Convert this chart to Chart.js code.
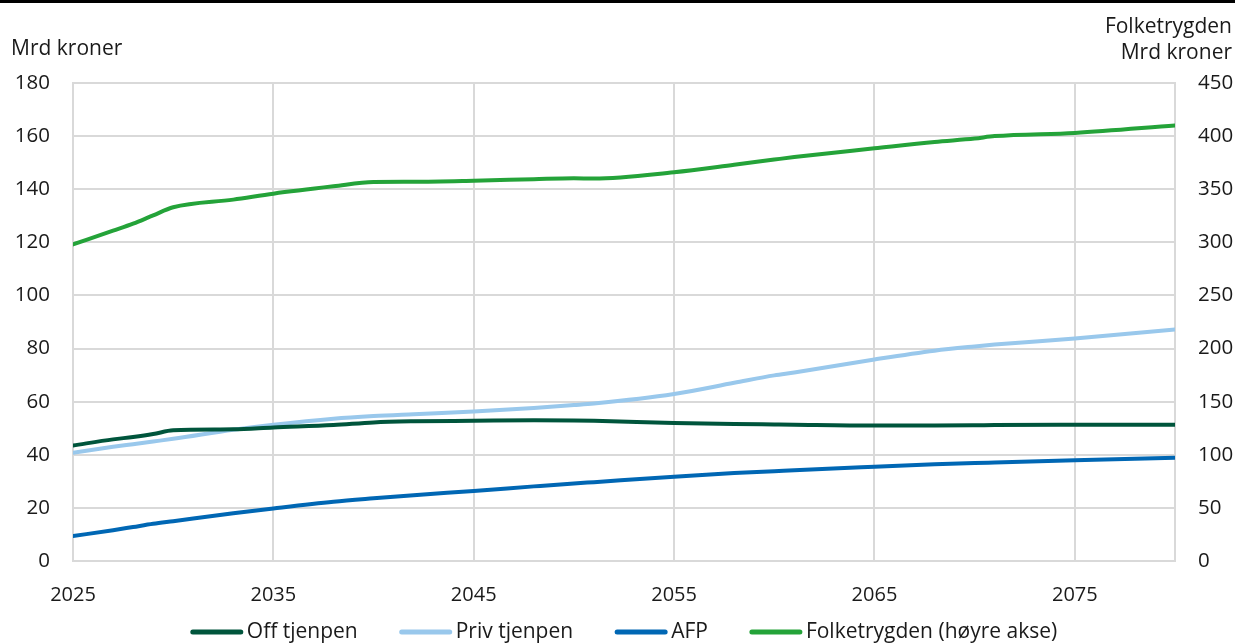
<!DOCTYPE html>
<html>
<head>
<meta charset="utf-8">
<script src="https://cdn.jsdelivr.net/npm/chart.js@4.4.1/dist/chart.umd.min.js"></script>
<style>
  html, body { margin: 0; padding: 0; background: #ffffff; }
  #wrap { width: 1235px; height: 643px; }
</style>
</head>
<body>
<div id="wrap"><canvas id="c" width="1235" height="643"></canvas></div>
<script>
// ---- Data ----
const years = [2025, 2027, 2028, 2029, 2030, 2033, 2035, 2038, 2040, 2042, 2045, 2048, 2050, 2051, 2055, 2058, 2060, 2061, 2065, 2068, 2070, 2071, 2075, 2080];
const offTjenpen = [43.5, 45.8, 46.7, 47.8, 49.2, 49.6, 50.3, 51.2, 52.2, 52.6, 52.8, 53.0, 52.9, 52.8, 52.0, 51.6, 51.4, 51.3, 51.0, 51.0, 51.1, 51.2, 51.3, 51.3];
const privTjenpen = [40.8, 43.0, 44.0, 45.0, 46.0, 49.4, 51.3, 53.6, 54.6, 55.3, 56.3, 57.6, 58.7, 59.3, 62.9, 67.1, 69.9, 71.0, 75.9, 79.2, 80.8, 81.5, 83.8, 87.2];
const afp = [9.4, 11.6, 12.8, 14.0, 15.0, 18.0, 19.8, 22.3, 23.6, 24.8, 26.4, 28.1, 29.2, 29.7, 31.7, 33.1, 33.8, 34.2, 35.5, 36.4, 36.9, 37.1, 37.9, 38.9];
const folketrygden = [298, 311, 317.6, 325.4, 333, 340.2, 345.8, 352.7, 356.8, 357, 358, 359.5, 360.4, 360, 366, 373, 377.9, 380.3, 388.5, 394.5, 397.7, 400, 403, 410];
const seriesNames = ['Off tjenpen', 'Priv tjenpen', 'AFP', 'Folketrygden (høyre akse)'];
const xTickValues = [2025, 2035, 2045, 2055, 2065, 2075];
const leftTitle = 'Mrd kroner';
const rightTitle = ['Folketrygden', 'Mrd kroner'];

const FONT = '"Open Sans", "Noto Sans", sans-serif';
const TEXT = '#1a1a1a';
const GRID = '#d9d9d9';
const colors = ['#00553c', '#99c8ec', '#0067b4', '#24a339'];

const toPts = arr => arr.map((v, i) => ({ x: years[i], y: v }));

const decor = {
  id: 'decor',
  afterDraw(chart) {
    const ctx = chart.ctx;
    const ca = chart.chartArea;
    ctx.save();
    // top black rule
    ctx.fillStyle = '#000';
    ctx.fillRect(0, 0, chart.width, 3);
    // axis titles
    ctx.fillStyle = TEXT;
    ctx.font = '21px ' + FONT;
    ctx.textBaseline = 'middle';
    ctx.textAlign = 'left';
    ctx.fillText(leftTitle, 11, 49);
    ctx.textAlign = 'right';
    ctx.fillText(rightTitle[0], 1232, 27);
    ctx.fillText(rightTitle[1], 1232, 53);
    // legend
    const lineW = 52, gapText = 4, gapItem = 42;
    const items = chart.data.datasets.map((d, i) => ({ label: d.label, color: d.borderColor, w: lineW + gapText + ctx.measureText(d.label).width }));
    ctx.textAlign = 'left';
    const total = items.reduce((s, it) => s + it.w, 0) + gapItem * (items.length - 1);
    let x = (ca.left + ca.right) / 2 - total / 2;
    const y = 632;
    items.forEach(it => {
      ctx.strokeStyle = it.color;
      ctx.lineWidth = 5;
      ctx.lineCap = 'round';
      ctx.beginPath();
      ctx.moveTo(x + 2, y);
      ctx.lineTo(x + lineW - 2, y);
      ctx.stroke();
      ctx.fillStyle = TEXT;
      ctx.fillText(it.label, x + lineW + gapText, y);
      x += it.w + gapItem;
    });
    ctx.restore();
  }
};

const mk = (i, data, axis) => ({
  label: seriesNames[i],
  data: toPts(data),
  yAxisID: axis,
  borderColor: colors[i],
  backgroundColor: colors[i],
  borderWidth: 4,
  borderCapStyle: 'round',
  borderJoinStyle: 'round',
  pointRadius: 0,
  cubicInterpolationMode: 'monotone',
  fill: false
});

new Chart(document.getElementById('c'), {
  type: 'line',
  data: {
    datasets: [
      mk(0, offTjenpen, 'y'),
      mk(1, privTjenpen, 'y'),
      mk(2, afp, 'y'),
      mk(3, folketrygden, 'y1')
    ]
  },
  options: {
    responsive: false,
    devicePixelRatio: 1,
    animation: false,
    layout: { padding: { top: 83, left: 0, right: 0, bottom: 0 } },
    plugins: { legend: { display: false }, tooltip: { enabled: false } },
    scales: {
      x: {
        type: 'linear',
        min: 2025,
        max: 2080,
        afterBuildTicks: s => { s.ticks = xTickValues.map(v => ({ value: v })); },
        afterFit: s => { s.height = 82; },
        grid: { color: GRID, lineWidth: 2, drawTicks: false },
        border: { color: GRID, width: 2 },
        ticks: { color: TEXT, font: { family: FONT, size: 20 }, padding: 22, maxRotation: 0, callback: v => String(v) }
      },
      y: {
        position: 'left',
        min: 0,
        max: 180,
        afterFit: s => { s.width = 73; },
        grid: { color: GRID, lineWidth: 2, drawTicks: false },
        border: { color: GRID, width: 2 },
        ticks: { stepSize: 20, color: TEXT, font: { family: FONT, size: 20.5 }, padding: 23 }
      },
      y1: {
        position: 'right',
        min: 0,
        max: 450,
        afterFit: s => { s.width = 60; },
        grid: { display: false, drawTicks: false },
        border: { display: true, color: GRID, width: 2 },
        ticks: { stepSize: 50, color: TEXT, font: { family: FONT, size: 20.5 }, padding: 23 }
      }
    }
  },
  plugins: [decor]
});
</script>
</body>
</html>
